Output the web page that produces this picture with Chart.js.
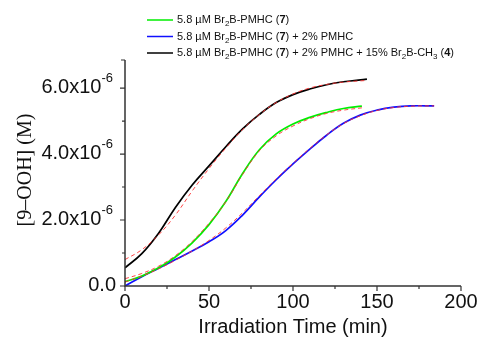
<!DOCTYPE html>
<html>
<head>
<meta charset="utf-8">
<script src="https://cdn.jsdelivr.net/npm/chart.js@4/dist/chart.umd.min.js"></script>
<style>
  html, body { margin: 0; padding: 0; background: #fff; }
  canvas { display: block; }
</style>
</head>
<body>
<canvas id="grafico" width="481" height="342"></canvas>
<script>
// concentrations in units of 1e-6 M, time in min
const tGreen = [0, 10, 20, 30, 40, 50, 60, 70, 80, 90, 100, 110, 120, 130, 141];
const yGreen = [0.13, 0.3, 0.55, 0.88, 1.31, 1.86, 2.56, 3.41, 4.13, 4.61, 4.91, 5.11, 5.26, 5.38, 5.45];
const fitGreen = [0.22, 0.38, 0.6, 0.92, 1.35, 1.9, 2.55, 3.38, 4.1, 4.55, 4.85, 5.07, 5.23, 5.33, 5.4];

const tBlue = [0, 10, 20, 30, 40, 50, 60, 70, 80, 90, 100, 110, 120, 130, 140, 150, 160, 170, 184];
const yBlue = [0, 0.28, 0.54, 0.8, 1.06, 1.34, 1.68, 2.15, 2.7, 3.22, 3.7, 4.15, 4.57, 4.93, 5.18, 5.33, 5.42, 5.46, 5.46];
const fitBlue = [0.12, 0.3, 0.52, 0.78, 1.06, 1.38, 1.76, 2.22, 2.74, 3.25, 3.72, 4.17, 4.58, 4.92, 5.16, 5.32, 5.41, 5.45, 5.46];

const tBlack = [0, 10, 20, 30, 40, 50, 60, 70, 80, 90, 100, 110, 120, 130, 144];
const yBlack = [0.55, 0.98, 1.6, 2.38, 3.06, 3.64, 4.22, 4.76, 5.2, 5.56, 5.8, 5.97, 6.1, 6.19, 6.27];
const fitBlack = [0.8, 1.1, 1.55, 2.15, 2.88, 3.56, 4.18, 4.74, 5.2, 5.56, 5.82, 6.0, 6.11, 6.18, 6.23];

const xTicks = [0, 50, 100, 150, 200];
const yTicks = [0, 2, 4, 6];
const yTickLabels = ["0.0", "2.0x10", "4.0x10", "6.0x10"];

const legendItems = [
    { color: "#00ee00", parts: [["5.8 \u00b5M Br"], ["2", "sub"], ["B-PMHC ("], ["7", "b"], [")"]] },
    { color: "#1010ff", parts: [["5.8 \u00b5M Br"], ["2", "sub"], ["B-PMHC ("], ["7", "b"], [") + 2% PMHC"]] },
    { color: "#000000", parts: [["5.8 \u00b5M Br"], ["2", "sub"], ["B-PMHC ("], ["7", "b"], [") + 2% PMHC + 15% Br"], ["2", "sub"], ["B-CH"], ["3", "sub"], [" ("], ["4", "b"], [")"]] }
];

const pts = (t, y) => t.map((v, i) => ({ x: v, y: y[i] }));

const eixos = {
    id: 'eixos',
    afterDraw(chart) {
        const { ctx, chartArea: { left, right, top, bottom }, scales: { x, y } } = chart;
        ctx.save();
        ctx.strokeStyle = "#333";
        ctx.lineWidth = 1.5;
        ctx.beginPath();
        ctx.moveTo(left, top);
        ctx.lineTo(left, bottom);
        ctx.lineTo(right, bottom);
        ctx.stroke();

        // ticks (outward)
        ctx.lineWidth = 1.2;
        ctx.beginPath();
        for (let v = 0; v <= 200; v += 25) {
            const px = x.getPixelForValue(v);
            ctx.moveTo(px, bottom);
            ctx.lineTo(px, bottom + (v % 50 === 0 ? 5 : 3));
        }
        for (let v = 0; v <= 6; v += 1) {
            const py = y.getPixelForValue(v);
            ctx.moveTo(left, py);
            ctx.lineTo(left - (v % 2 === 0 ? 5 : 3), py);
        }
        ctx.moveTo(left, top);
        ctx.lineTo(left - 4, top);
        ctx.stroke();

        // tick labels
        ctx.fillStyle = "#111";
        ctx.font = "20px 'Liberation Sans', Arial, sans-serif";
        ctx.textAlign = "center";
        ctx.textBaseline = "top";
        xTicks.forEach(v => ctx.fillText(String(v), x.getPixelForValue(v), bottom + 6));

        ctx.textBaseline = "middle";
        yTicks.forEach((v, i) => {
            const py = y.getPixelForValue(v) - 1;
            const rightEdge = 113;
            if (v === 0) {
                ctx.font = "20px 'Liberation Sans', Arial, sans-serif";
                ctx.textAlign = "right";
                ctx.fillText(yTickLabels[i], rightEdge + 3, py);
                return;
            }
            ctx.font = "13px 'Liberation Sans', Arial, sans-serif";
            const supW = ctx.measureText("-6").width;
            ctx.textAlign = "left";
            ctx.fillText("-6", rightEdge - supW, py - 9);
            ctx.font = "20px 'Liberation Sans', Arial, sans-serif";
            ctx.textAlign = "right";
            ctx.fillText(yTickLabels[i], rightEdge - supW, py);
        });

        // axis titles
        ctx.textAlign = "center";
        ctx.font = "20px 'Liberation Sans', Arial, sans-serif";
        ctx.fillText("Irradiation Time (min)", (left + right) / 2, 327);

        ctx.save();
        ctx.translate(26, 170);
        ctx.rotate(-Math.PI / 2);
        ctx.font = "20px 'Liberation Serif', 'Times New Roman', serif";
        ctx.fillText("[9\u2013OOH] (M)", 0, 0);
        ctx.restore();

        // legend
        legendItems.forEach((item, i) => {
            const ly = 20 + i * 16.5;
            ctx.strokeStyle = item.color;
            ctx.lineWidth = 1.5;
            ctx.beginPath();
            ctx.moveTo(147, ly);
            ctx.lineTo(173, ly);
            ctx.stroke();
            let tx = 177;
            ctx.textAlign = "left";
            ctx.textBaseline = "middle";
            item.parts.forEach(([txt, kind]) => {
                if (kind === "sub") {
                    ctx.font = "8px 'Liberation Sans', Arial, sans-serif";
                    ctx.fillText(txt, tx, ly + 4);
                } else if (kind === "b") {
                    ctx.font = "bold 11px 'Liberation Sans', Arial, sans-serif";
                    ctx.fillText(txt, tx, ly);
                } else {
                    ctx.font = "11px 'Liberation Sans', Arial, sans-serif";
                    ctx.fillText(txt, tx, ly);
                }
                tx += ctx.measureText(txt).width;
            });
        });
        ctx.restore();
    }
};

const linha = (data, color) => ({
    data, borderColor: color, borderWidth: 1.7, pointRadius: 0,
    tension: 0.4, order: 1
});
const ajuste = (data) => ({
    data, borderColor: "rgba(255,50,50,0.9)", borderWidth: 1, borderDash: [4, 3],
    pointRadius: 0, tension: 0.4, order: 0
});

new Chart(document.getElementById("grafico").getContext("2d"), {
    type: "line",
    data: {
        datasets: [
            ajuste(pts(tGreen, fitGreen)),
            ajuste(pts(tBlue, fitBlue)),
            ajuste(pts(tBlack, fitBlack)),
            linha(pts(tGreen, yGreen), "#00ee00"),
            linha(pts(tBlue, yBlue), "#1010ff"),
            linha(pts(tBlack, yBlack), "#000000")
        ]
    },
    options: {
        responsive: false,
        animation: false,
        devicePixelRatio: 1,
        layout: { padding: { left: 125, right: 20, top: 60, bottom: 56 } },
        plugins: { legend: { display: false }, tooltip: { enabled: false } },
        scales: {
            x: { type: "linear", min: 0, max: 200, display: false },
            y: { type: "linear", min: 0, max: 6.85, display: false }
        }
    },
    plugins: [eixos]
});
</script>
</body>
</html>
